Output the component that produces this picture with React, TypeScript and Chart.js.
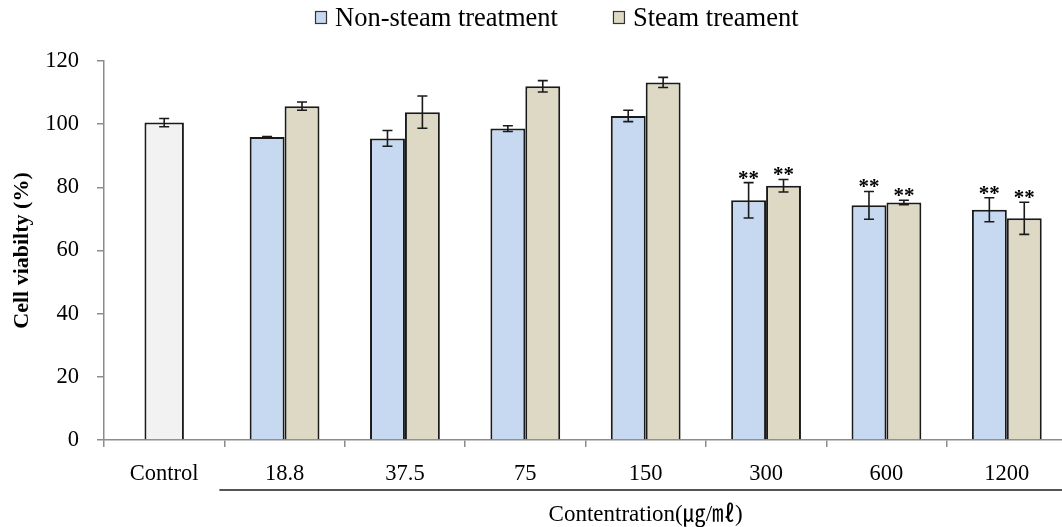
import { useEffect, useRef } from 'react';
import { Chart, registerables } from 'chart.js';

Chart.register(...registerables);

const categories = ['Control', '18.8', '37.5', '75', '150', '300', '600', '1200'];
const controlValues = [100.5, null, null, null, null, null, null, null];
const controlErrors = [1.3, null, null, null, null, null, null, null];
const nonSteamValues = [null, 95.9, 95.5, 98.6, 102.6, 75.9, 74.3, 72.9];
const nonSteamErrors = [null, 0.2, 2.5, 0.9, 1.8, 5.6, 4.4, 3.8];
const steamValues = [null, 105.7, 103.8, 112.0, 113.2, 80.5, 75.2, 70.2];
const steamErrors = [null, 1.3, 5.1, 1.8, 1.6, 2.0, 0.7, 5.1];
const nonSteamSig = ['', '', '', '', '', '**', '**', '**'];
const steamSig = ['', '', '', '', '', '**', '**', '**'];
const legendLabels = ['Non-steam treatment', 'Steam treament'];
const yTitle = 'Cell viabilty (%)';
const xTitle = 'Contentration(㎍/㎖)';
const yMin = 0;
const yMax = 120;
const yStep = 20;

const SERIF = "'Liberation Serif', 'Times New Roman', 'Noto Sans CJK KR', serif";
const COLORS = ['#f2f2f2', '#c6d9f1', '#ddd9c4'];
const BORDER = '#1a1a1a';
const AXIS = '#8c8c8c';

const errorsByDataset = [controlErrors, nonSteamErrors, steamErrors];
const sigByDataset = [null, nonSteamSig, steamSig];

const errorBarPlugin = {
  id: 'errorBars',
  afterDatasetsDraw(chart: any) {
    const ctx = chart.ctx;
    const yScale = chart.scales.y;
    ctx.save();
    chart.data.datasets.forEach((ds: any, di: number) => {
      const meta = chart.getDatasetMeta(di);
      const errs = errorsByDataset[di];
      const sig = sigByDataset[di];
      meta.data.forEach((el: any, i: number) => {
        const v = ds.data[i];
        const e = errs[i];
        if (v == null || e == null) return;
        const x = el.x;
        const yTop = yScale.getPixelForValue(v + e);
        const yBot = yScale.getPixelForValue(v - e);
        ctx.strokeStyle = BORDER;
        ctx.lineWidth = 1.6;
        ctx.beginPath();
        ctx.moveTo(x, yTop);
        ctx.lineTo(x, yBot);
        ctx.moveTo(x - 5, yTop);
        ctx.lineTo(x + 5, yTop);
        ctx.moveTo(x - 5, yBot);
        ctx.lineTo(x + 5, yBot);
        ctx.stroke();
        if (sig && sig[i]) {
          ctx.fillStyle = '#000';
          ctx.font = `bold 21px ${SERIF}`;
          ctx.textAlign = 'center';
          ctx.textBaseline = 'alphabetic';
          ctx.fillText(sig[i], x, yTop + 2);
        }
      });
    });
    ctx.restore();
  },
};

const annotationsPlugin = {
  id: 'annotations',
  afterDraw(chart: any) {
    const ctx = chart.ctx;
    const xScale = chart.scales.x;
    ctx.save();
    // legend
    ctx.font = `26.5px ${SERIF}`;
    ctx.textBaseline = 'middle';
    ctx.textAlign = 'left';
    let lx = 315;
    const ly = 18;
    legendLabels.forEach((label, i) => {
      ctx.fillStyle = COLORS[i + 1];
      ctx.fillRect(lx, 11, 12, 13);
      ctx.strokeStyle = '#333';
      ctx.lineWidth = 1.2;
      ctx.strokeRect(lx + 0.5, 11.5, 11, 12);
      ctx.fillStyle = '#000';
      ctx.fillText(label, lx + 20, ly + 1);
      lx += 20 + ctx.measureText(label).width + 55;
    });
    // concentration bracket line and title
    const step = xScale.getPixelForValue(2) - xScale.getPixelForValue(1);
    const x0 = xScale.getPixelForValue(1) - step / 2 - 5;
    const x1 = chart.width;
    ctx.strokeStyle = '#555';
    ctx.lineWidth = 2;
    ctx.beginPath();
    ctx.moveTo(x0, 490);
    ctx.lineTo(x1, 490);
    ctx.stroke();
    ctx.fillStyle = '#000';
    ctx.font = `23px ${SERIF}`;
    ctx.textAlign = 'center';
    ctx.textBaseline = 'middle';
    const right = xScale.getPixelForValue(categories.length - 1) + step / 2;
    ctx.fillText(xTitle, (x0 + 5 + right) / 2, 515);
    ctx.restore();
  },
};

export default function App() {
  const ref = useRef<HTMLCanvasElement>(null);
  useEffect(() => {
    if (!ref.current) return;
    const chart = new Chart(ref.current, {
      type: 'bar',
      data: {
        labels: categories,
        datasets: [
          {
            label: 'Control',
            data: controlValues,
            backgroundColor: COLORS[0],
            borderColor: BORDER,
            borderWidth: 2,
            skipNull: true,
            categoryPercentage: 0.58,
            barPercentage: 0.565,
          },
          {
            label: legendLabels[0],
            data: nonSteamValues,
            backgroundColor: COLORS[1],
            borderColor: BORDER,
            borderWidth: 2,
            skipNull: true,
            categoryPercentage: 0.58,
            barPercentage: 1,
          },
          {
            label: legendLabels[1],
            data: steamValues,
            backgroundColor: COLORS[2],
            borderColor: BORDER,
            borderWidth: 2,
            skipNull: true,
            categoryPercentage: 0.58,
            barPercentage: 1,
          },
        ] as any,
      },
      options: {
        responsive: false,
        animation: false,
        devicePixelRatio: 1,
        layout: { padding: { left: 0, right: 3, top: 61, bottom: 0 } },
        plugins: { legend: { display: false }, tooltip: { enabled: false } },
        scales: {
          x: {
            offset: true,
            grid: { offset: true, drawOnChartArea: false, drawTicks: true, tickLength: 7, color: AXIS, lineWidth: 1.5 },
            border: { color: AXIS, width: 1.5 },
            ticks: { color: '#000', font: { family: SERIF, size: 22.5 }, padding: 14, maxRotation: 0, autoSkip: false },
            afterFit: (s: any) => { s.height = 87; },
          },
          y: {
            min: yMin,
            max: yMax,
            grid: { drawOnChartArea: false, drawTicks: true, tickLength: 7, color: AXIS, lineWidth: 1.5 },
            border: { color: AXIS, width: 1.5 },
            ticks: { stepSize: yStep, color: '#000', font: { family: SERIF, size: 22.5 }, padding: 18 },
            title: { display: true, text: yTitle, color: '#000', font: { family: SERIF, size: 22, weight: 'bold' }, padding: { top: 9, bottom: 0 } },
            afterFit: (s: any) => { s.width = 104; },
          },
        },
      },
      plugins: [errorBarPlugin, annotationsPlugin],
    });
    return () => chart.destroy();
  }, []);
  return (
    <div style={{ position: 'fixed', left: 0, top: 0, width: 1062, height: 527, overflow: 'hidden', background: '#fff' }}>
      <canvas ref={ref} width={1070} height={527} style={{ display: 'block' }} />
    </div>
  );
}
